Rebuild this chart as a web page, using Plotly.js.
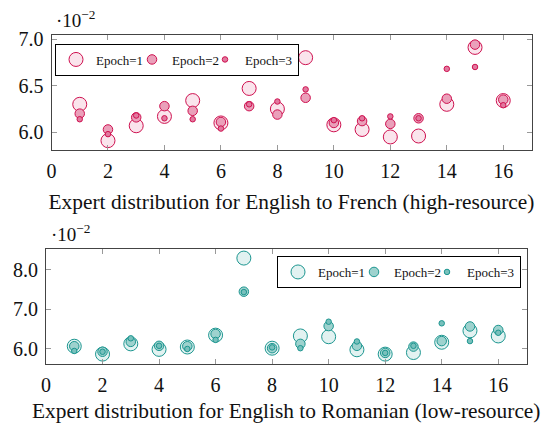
<!DOCTYPE html>
<html>
<head>
<meta charset="utf-8">
<script src="https://cdn.plot.ly/plotly-3.0.1.min.js"></script>
<style>html,body{margin:0;padding:0;background:#fff;}#chart{width:544px;height:425px;}</style>
</head>
<body>
<div id="chart"></div>
<script>
// Expert index
const experts = [1,2,3,4,5,6,7,8,9,10,11,12,13,14,15,16];
// Values in units of 10^-2 — English to French (high-resource)
const frEpoch1 = [6.30,5.91,6.07,6.17,6.34,6.10,6.47,6.25,6.80,6.08,6.03,5.95,5.96,6.30,6.91,6.34];
const frEpoch2 = [6.20,6.03,6.16,6.28,6.23,6.11,6.28,6.19,6.37,6.10,6.12,6.09,6.15,6.36,6.94,6.35];
const frEpoch3 = [6.14,5.98,6.18,6.15,6.14,6.04,6.30,6.33,6.46,6.13,6.15,6.17,6.15,6.68,6.70,6.29];
// Values in units of 10^-2 — English to Romanian (low-resource)
const roEpoch1 = [6.07,5.87,6.13,5.99,6.05,6.35,8.30,6.02,6.33,6.31,5.98,5.87,5.91,6.17,6.46,6.33];
const roEpoch2 = [6.07,5.93,6.18,6.08,6.07,6.38,7.45,6.02,6.13,6.58,6.08,5.90,6.06,6.20,6.57,6.48];
const roEpoch3 = [5.95,5.93,6.27,6.08,6.00,6.23,7.44,6.04,6.02,6.69,6.19,5.90,6.08,6.65,6.20,6.41];
const seriesNames = ['Epoch=1','Epoch=2','Epoch=3'];
const xTicks = [0,2,4,6,8,10,12,14,16];
const frYTicks = [6.0,6.5,7.0];
const roYTicks = [6.0,7.0,8.0];

const red = '#cf1150';
const redFills = ['rgba(250,228,236,1)','rgba(234,160,186,1)','rgba(226,120,158,1)'];
const teal = '#1c9690';
const tealFills = ['rgba(226,242,241,1)','rgba(158,210,206,1)','rgba(120,192,188,1)'];
const sizes = [14,9.5,5.5];
const entryWidths = [31,28,null];

const serif = '"Liberation Serif"';
const traces = [];
[frEpoch1,frEpoch2,frEpoch3].forEach((ys,i)=>{
  const t = {x:experts,y:ys,type:'scatter',mode:'markers',name:seriesNames[i],
    xaxis:'x',yaxis:'y',legend:'legend',
    marker:{size:sizes[i],color:redFills[i],line:{color:red,width:1}}};
  if(entryWidths[i]) t.legendwidth = entryWidths[i];
  traces.push(t);
});
[roEpoch1,roEpoch2,roEpoch3].forEach((ys,i)=>{
  const t = {x:experts,y:ys,type:'scatter',mode:'markers',name:seriesNames[i],
    xaxis:'x2',yaxis:'y2',legend:'legend2',
    marker:{size:sizes[i],color:tealFills[i],line:{color:teal,width:1}}};
  if(entryWidths[i]) t.legendwidth = entryWidths[i];
  traces.push(t);
});

const axisCommon = {
  showgrid:false, zeroline:false, showline:true, linecolor:'#444', linewidth:1,
  mirror:'ticks', ticks:'inside', ticklen:5, tickcolor:'#999', tickwidth:1,
  ticklabelstandoff:3,
  tickfont:{family:serif,size:20,color:'#111'}
};
const W=544,H=425;
const titleFont = {family:serif,size:21.4,color:'#111'};
const legendFont = {family:serif,size:13,color:'#111'};
const layout = {
  width:W,height:H,margin:{l:0,r:0,t:0,b:0},
  paper_bgcolor:'#fff',plot_bgcolor:'#fff',
  font:{family:serif,color:'#111'},
  xaxis:Object.assign({},axisCommon,{domain:[51.5/W,531.5/W],range:[0,17],tickvals:xTicks,anchor:'y',
    title:{text:'Expert distribution for English to French (high-resource)',font:titleFont,standoff:13}}),
  yaxis:Object.assign({},axisCommon,{domain:[1-150/H,1-35/H],range:[5.81,7.043],tickvals:frYTicks,tickformat:'.1f',anchor:'x'}),
  xaxis2:Object.assign({},axisCommon,{domain:[46/W,526.5/W],range:[0,17],tickvals:xTicks,anchor:'y2',
    title:{text:'Expert distribution for English to Romanian (low-resource)',font:titleFont,standoff:8}}),
  yaxis2:Object.assign({},axisCommon,{domain:[1-364/H,1-249/H],range:[5.62,8.53],tickvals:roYTicks,tickformat:'.1f',anchor:'x2'}),
  legend:{x:55/W,y:1-43.5/H,xanchor:'left',yanchor:'top',orientation:'h',
    bordercolor:'#000',borderwidth:1,bgcolor:'#fff',font:legendFont,
    itemwidth:30,tracegroupgap:0},
  legend2:{x:521/W,y:1-256/H,xanchor:'right',yanchor:'top',orientation:'h',
    bordercolor:'#000',borderwidth:1,bgcolor:'#fff',font:legendFont,
    itemwidth:30,tracegroupgap:0},
  annotations:[
    {text:'·10<sup>−2</sup>',xref:'paper',yref:'paper',x:54/W,y:1-33/H,xanchor:'left',yanchor:'bottom',showarrow:false,font:{family:serif,size:19,color:'#111'}},
    {text:'·10<sup>−2</sup>',xref:'paper',yref:'paper',x:49/W,y:1-247/H,xanchor:'left',yanchor:'bottom',showarrow:false,font:{family:serif,size:19,color:'#111'}}
  ]
};
Plotly.newPlot('chart',traces,layout,{displayModeBar:false,staticPlot:true});
</script>
</body>
</html>
